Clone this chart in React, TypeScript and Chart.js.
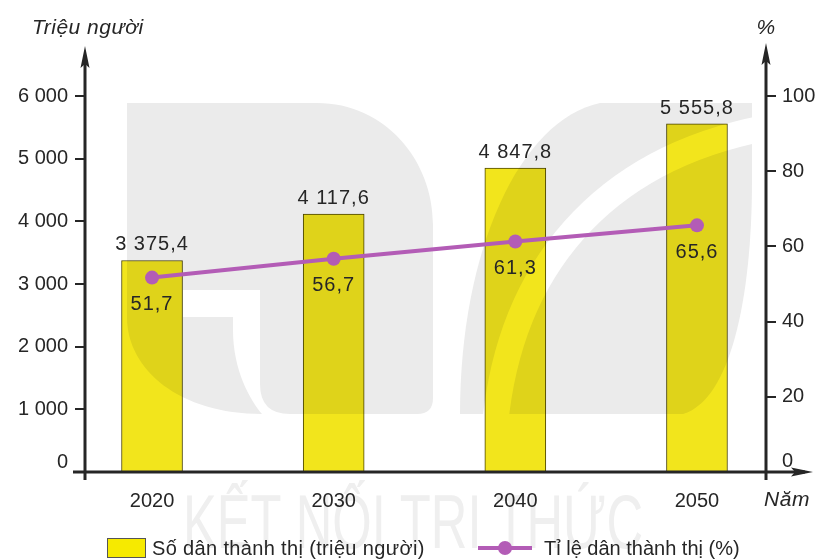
import React, { useEffect, useRef } from "react";
import { Chart, registerables } from "chart.js";

Chart.register(...registerables);

const years = [2020, 2030, 2040, 2050];
const urbanPopulation = [3375.4, 4117.6, 4847.8, 5555.8];
const urbanRate = [51.7, 56.7, 61.3, 65.6];
const populationLabels = ["3 375,4", "4 117,6", "4 847,8", "5 555,8"];
const rateLabels = ["51,7", "56,7", "61,3", "65,6"];
const leftTickValues = [0, 1000, 2000, 3000, 4000, 5000, 6000];
const leftTickLabels = ["0", "1 000", "2 000", "3 000", "4 000", "5 000", "6 000"];
const rightTickValues = [0, 20, 40, 60, 80, 100];
const rightTickLabels = ["0", "20", "40", "60", "80", "100"];
const legendBar = "Số dân thành thị (triệu người)";
const legendLine = "Tỉ lệ dân thành thị (%)";
const leftTitle = "Triệu người";
const rightTitle = "%";
const xTitle = "Năm";
const watermark = "KẾT NỐI TRI THỨC";

const FONT = "'Liberation Sans', Arial, sans-serif";
const INK = "#262626";
const BAR = "#f2e51c";
const BAR_BORDER = "#4d4600";
const LINE = "#b35cb6";
const WM = "#ebebeb";

function buildWatermark(): HTMLCanvasElement {
  const c = document.createElement("canvas");
  c.width = 815;
  c.height = 560;
  const g = c.getContext("2d") as CanvasRenderingContext2D;
  g.fillStyle = "#ffffff";
  g.fillRect(0, 0, 815, 560);
  g.fillStyle = WM;
  // left block, upper part and right column
  g.beginPath();
  g.moveTo(127, 103);
  g.lineTo(317, 103);
  g.bezierCurveTo(385, 103, 433, 160, 433, 225);
  g.lineTo(433, 398);
  g.quadraticCurveTo(433, 414, 417, 414);
  g.lineTo(290, 414);
  g.quadraticCurveTo(260, 414, 260, 384);
  g.lineTo(260, 290);
  g.lineTo(127, 290);
  g.closePath();
  g.fill();
  // left block, rounded lower-left quadrant
  g.beginPath();
  g.moveTo(127, 290);
  g.lineTo(233, 290);
  g.lineTo(233, 330);
  g.bezierCurveTo(233, 370, 250, 400, 262, 414);
  g.bezierCurveTo(180, 414, 127, 370, 127, 317);
  g.closePath();
  g.fill();
  // right leaf
  g.beginPath();
  g.moveTo(460, 414);
  g.bezierCurveTo(460, 250, 520, 120, 600, 103);
  g.lineTo(752, 103);
  g.lineTo(752, 180);
  g.bezierCurveTo(752, 300, 730, 400, 683, 414);
  g.closePath();
  g.fill();
  // white cut-outs
  g.fillStyle = "#ffffff";
  g.fillRect(183, 290, 77, 27);
  g.strokeStyle = "#ffffff";
  g.lineWidth = 26;
  g.beginPath();
  g.moveTo(495, 425);
  g.bezierCurveTo(510, 270, 600, 160, 765, 128);
  g.stroke();
  // watermark text
  g.fillStyle = "#efefef";
  g.font = `76px 'Liberation Sans Narrow', ${FONT}`;
  g.textAlign = "left";
  g.textBaseline = "alphabetic";
  const w = g.measureText(watermark).width;
  g.save();
  g.translate(183, 548);
  g.scale(460 / w, 1);
  g.fillText(watermark, 0, 0);
  g.restore();
  return c;
}

const decorPlugin = {
  id: "decor",
  beforeDraw(chart: any) {
    const { ctx } = chart;
    ctx.save();
    ctx.fillStyle = "#ffffff";
    ctx.fillRect(0, 0, chart.width, chart.height);
    ctx.restore();
  },
  afterDatasetDraw(chart: any, args: any) {
    if (args.index !== 0) return;
    const { ctx } = chart;
    if (!chart.$wm) chart.$wm = buildWatermark();
    ctx.save();
    ctx.globalCompositeOperation = "multiply";
    ctx.drawImage(chart.$wm, 0, 0);
    ctx.restore();
  },
  afterDraw(chart: any) {
    const { ctx, chartArea } = chart;
    const yl = chart.scales.y;
    const baseY = yl.getPixelForValue(0);
    const leftX = chartArea.left;
    const rightX = chartArea.right;
    ctx.save();
    ctx.strokeStyle = INK;
    ctx.fillStyle = INK;
    ctx.lineWidth = 3;
    ctx.beginPath();
    ctx.moveTo(leftX, baseY + 8);
    ctx.lineTo(leftX, 56);
    ctx.moveTo(rightX, baseY + 8);
    ctx.lineTo(rightX, 54);
    ctx.moveTo(leftX - 12, baseY);
    ctx.lineTo(805, baseY);
    ctx.stroke();
    const arrowUp = (x: number, tip: number) => {
      ctx.beginPath();
      ctx.moveTo(x, tip);
      ctx.lineTo(x - 4.5, tip + 22);
      ctx.lineTo(x, tip + 18);
      ctx.lineTo(x + 4.5, tip + 22);
      ctx.closePath();
      ctx.fill();
    };
    arrowUp(leftX, 46);
    arrowUp(rightX, 43);
    ctx.beginPath();
    ctx.moveTo(813, baseY);
    ctx.lineTo(791, baseY - 4.5);
    ctx.lineTo(795, baseY);
    ctx.lineTo(791, baseY + 4.5);
    ctx.closePath();
    ctx.fill();

    // zero labels (raised slightly above the base line)
    ctx.font = `20px ${FONT}`;
    ctx.textBaseline = "middle";
    ctx.textAlign = "right";
    ctx.fillText(leftTickLabels[0], leftX - 17, baseY - 10);
    ctx.textAlign = "left";
    ctx.fillText(rightTickLabels[0], rightX + 16, baseY - 11);

    // titles
    ctx.font = `italic 21px ${FONT}`;
    (ctx as any).letterSpacing = "0.5px";
    ctx.textAlign = "left";
    ctx.fillText(leftTitle, 32, 28);
    ctx.textAlign = "center";
    ctx.fillText(rightTitle, rightX, 28);
    ctx.fillText(xTitle, 787, 500);

    // data labels
    ctx.font = `20px ${FONT}`;
    (ctx as any).letterSpacing = "1px";
    const barMeta = chart.getDatasetMeta(0);
    barMeta.data.forEach((el: any, i: number) => {
      ctx.textAlign = "center";
      ctx.textBaseline = "alphabetic";
      ctx.fillText(populationLabels[i], el.x, el.y - 10);
    });
    const lineMeta = chart.getDatasetMeta(1);
    lineMeta.data.forEach((el: any, i: number) => {
      ctx.textAlign = "center";
      ctx.textBaseline = "middle";
      ctx.fillText(rateLabels[i], el.x, el.y + 27);
    });

    // legend
    ctx.fillStyle = "#f6ea00";
    ctx.fillRect(107, 538, 38, 19);
    ctx.strokeStyle = "#555";
    ctx.lineWidth = 1;
    ctx.strokeRect(107.5, 538.5, 38, 19);
    ctx.fillStyle = INK;
    ctx.font = `20px ${FONT}`;
    (ctx as any).letterSpacing = "0.35px";
    ctx.textAlign = "left";
    ctx.textBaseline = "middle";
    ctx.fillText(legendBar, 152, 549);
    (ctx as any).letterSpacing = "0px";
    ctx.strokeStyle = LINE;
    ctx.lineWidth = 4;
    ctx.beginPath();
    ctx.moveTo(478, 548);
    ctx.lineTo(532, 548);
    ctx.stroke();
    ctx.fillStyle = LINE;
    ctx.beginPath();
    ctx.arc(505, 548, 7, 0, Math.PI * 2);
    ctx.fill();
    ctx.fillStyle = INK;
    ctx.fillText(legendLine, 544, 549);
    ctx.restore();
  },
};

export default function App() {
  const ref = useRef<HTMLCanvasElement>(null);
  useEffect(() => {
    if (!ref.current) return;
    const chart = new Chart(ref.current, {
      type: "bar",
      data: {
        datasets: [
          {
            type: "bar",
            label: legendBar,
            data: years.map((y, i) => ({ x: y, y: urbanPopulation[i] })),
            backgroundColor: BAR,
            borderColor: BAR_BORDER,
            borderWidth: 1,
            barThickness: 61,
            yAxisID: "y",
            order: 2,
          } as any,
          {
            type: "line",
            label: legendLine,
            data: years.map((y, i) => ({ x: y, y: urbanRate[i] })),
            borderColor: LINE,
            backgroundColor: LINE,
            borderWidth: 4,
            pointRadius: 7,
            pointBackgroundColor: LINE,
            pointBorderWidth: 0,
            yAxisID: "y1",
            order: 1,
          } as any,
        ],
      },
      options: {
        responsive: false,
        animation: false,
        layout: { padding: { top: 96, left: 0, right: 0, bottom: 0 } },
        plugins: { legend: { display: false }, tooltip: { enabled: false } },
        scales: {
          x: {
            type: "linear",
            min: 2016.31,
            max: 2053.8,
            offset: false,
            afterBuildTicks: (s: any) => {
              s.ticks = years.map((v) => ({ value: v }));
            },
            afterFit: (s: any) => {
              s.height = 88;
            },
            grid: { display: false, drawTicks: false },
            border: { display: false },
            ticks: {
              color: INK,
              font: { family: FONT, size: 20 },
              padding: 17,
              callback: (v: any) => String(v),
            },
          },
          y: {
            type: "linear",
            position: "left",
            min: 0,
            max: 6000,
            afterBuildTicks: (s: any) => {
              s.ticks = leftTickValues.map((v) => ({ value: v }));
            },
            afterFit: (s: any) => {
              s.width = 85;
            },
            grid: { drawOnChartArea: false, drawTicks: true, tickLength: 10, color: INK, lineWidth: 2 },
            border: { display: false },
            ticks: {
              color: INK,
              font: { family: FONT, size: 20 },
              padding: 7,
              callback: (v: any) => (v === 0 ? "" : leftTickLabels[leftTickValues.indexOf(v)] ?? ""),
            },
          },
          y1: {
            type: "linear",
            position: "right",
            min: 0,
            max: 100,
            afterBuildTicks: (s: any) => {
              s.ticks = rightTickValues.map((v) => ({ value: v }));
            },
            afterFit: (s: any) => {
              s.width = 49;
            },
            grid: { drawOnChartArea: false, drawTicks: true, tickLength: 10, color: INK, lineWidth: 2 },
            border: { display: false },
            ticks: {
              color: INK,
              font: { family: FONT, size: 20 },
              padding: 6,
              callback: (v: any) => (v === 0 ? "" : rightTickLabels[rightTickValues.indexOf(v)] ?? ""),
            },
          },
        },
      } as any,
      plugins: [decorPlugin],
    });
    return () => chart.destroy();
  }, []);
  return (
    <div style={{ position: "fixed", left: 0, top: 0, width: 815, height: 560, background: "#fff" }}>
      <canvas ref={ref} width={815} height={560} />
    </div>
  );
}
